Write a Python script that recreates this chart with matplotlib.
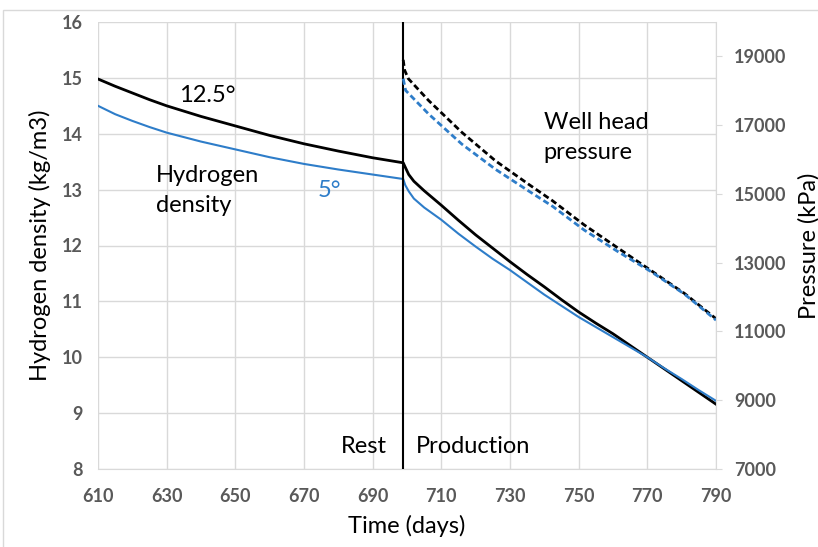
import matplotlib.pyplot as plt
from matplotlib.patches import Rectangle

plt.rcParams["font.family"] = ["Lato", "DejaVu Sans"]

# hydrogen density (kg/m3), left axis
days_dens = [610, 615, 620, 625, 630, 640, 650, 660, 670, 680, 690, 698.9,
             699.5, 700.5, 702, 705, 710, 715, 720, 725, 730, 735, 740, 745,
             750, 755, 760, 765, 770, 775, 780, 785, 790]
dens_125 = [14.98, 14.85, 14.73, 14.61, 14.50, 14.31, 14.14, 13.97, 13.82, 13.69,
            13.57, 13.48, 13.40, 13.27, 13.15, 12.98, 12.72, 12.45, 12.19, 11.95,
            11.71, 11.48, 11.26, 11.03, 10.81, 10.61, 10.42, 10.21, 10.00, 9.79,
            9.58, 9.37, 9.16]
dens_5 = [14.50, 14.35, 14.23, 14.12, 14.02, 13.86, 13.72, 13.58, 13.46, 13.36,
          13.27, 13.19, 13.08, 12.97, 12.84, 12.68, 12.46, 12.21, 11.98, 11.76,
          11.56, 11.34, 11.12, 10.92, 10.72, 10.54, 10.36, 10.18, 10.00, 9.80,
          9.61, 9.41, 9.22]

# well head pressure (kPa), right axis
days_p_125 = [698.9, 699.3, 700.4, 706.3, 716, 725.8, 735.5, 742.4, 751.6, 761.4,
              771.1, 780.9, 790]
pres_125 = [18900, 18600, 18350, 17716, 16789, 15960, 15275, 14800, 14100, 13430,
            12770, 12100, 11370]
days_p_5 = [698.9, 699.6, 706.3, 716, 725.8, 735.5, 742.4, 751.6, 761.4, 771.1,
            780.9, 790]
pres_5 = [18350, 18010, 17324, 16446, 15714, 15081, 14640, 13950, 13324, 12739,
          12080, 11330]

switch_day = 698.7
blue = "#2e7dc9"
grey = "#595959"

fig = plt.figure(figsize=(8.18, 5.47), dpi=100)
ax = fig.add_axes([98 / 818, 1 - 469 / 547, 618 / 818, 447 / 547])
ax2 = ax.twinx()

ax.plot(days_dens, dens_125, color="black", lw=2.0, zorder=4)
ax.plot(days_dens, dens_5, color=blue, lw=1.5, zorder=4)
ax2.plot(days_p_125, pres_125, color="black", lw=2.0, ls=(0, (2.2, 1.2)))
ax2.plot(days_p_5, pres_5, color=blue, lw=2.0, ls=(0, (2.2, 1.2)))
ax.axvline(switch_day, color="black", lw=1.5, zorder=5)

ax.set_xlim(610, 790)
ax.set_ylim(8, 16)
ax2.set_ylim(7000, 20000)
ax.set_xticks(range(610, 791, 20))
ax.set_yticks(range(8, 17))
ax2.set_yticks(range(7000, 19001, 2000))

ax.grid(True, color="#d9d9d9", lw=1)
ax.set_axisbelow(True)
for s in ["top", "left", "right"]:
    ax.spines[s].set_visible(False)
    ax2.spines[s].set_visible(False)
ax2.spines["bottom"].set_visible(False)
ax.spines["bottom"].set_color("#d9d9d9")
ax2.spines["right"].set_visible(True)
ax2.spines["right"].set_color("#d9d9d9")

ax.tick_params(axis="x", length=0, labelsize=13, labelcolor=grey, pad=14)
ax.tick_params(axis="y", length=0, labelsize=13, labelcolor=grey, pad=11)
ax2.tick_params(axis="y", length=4, color="#d9d9d9", labelsize=13,
                labelcolor=grey, pad=9)
for lab in ax.get_xticklabels() + ax.get_yticklabels() + ax2.get_yticklabels():
    lab.set_fontweight("bold")

ax.set_xlabel("Time (days)", fontsize=17, labelpad=7)
ax.set_ylabel("Hydrogen density (kg/m3)", fontsize=17, labelpad=8)
ax2.set_ylabel("Pressure (kPa)", fontsize=17, labelpad=8)

ax.text(641.8, 14.69, "12.5°", fontsize=17, ha="center", va="center")
ax.text(626.9, 12.98, "Hydrogen\ndensity", fontsize=17, ha="left", va="center",
        linespacing=1.55)
ax.text(677.5, 12.98, "5°", fontsize=17, color=blue, ha="center", va="center")
ax.text(739.8, 13.93, "Well head\npressure", fontsize=17, ha="left",
        va="center", linespacing=1.55)
ax.text(687.4, 8.4, "Rest", fontsize=17, ha="center", va="center")
ax.text(719.3, 8.4, "Production", fontsize=17, ha="center", va="center")

# chart-area border (only top and left edges are inside the image)
fig.patches.append(Rectangle((3 / 818, -0.1), 1.2, 1.1 - 10 / 547,
                             transform=fig.transFigure, fill=False,
                             edgecolor="#d9d9d9", lw=1))

fig.savefig("out.png", dpi=100)
